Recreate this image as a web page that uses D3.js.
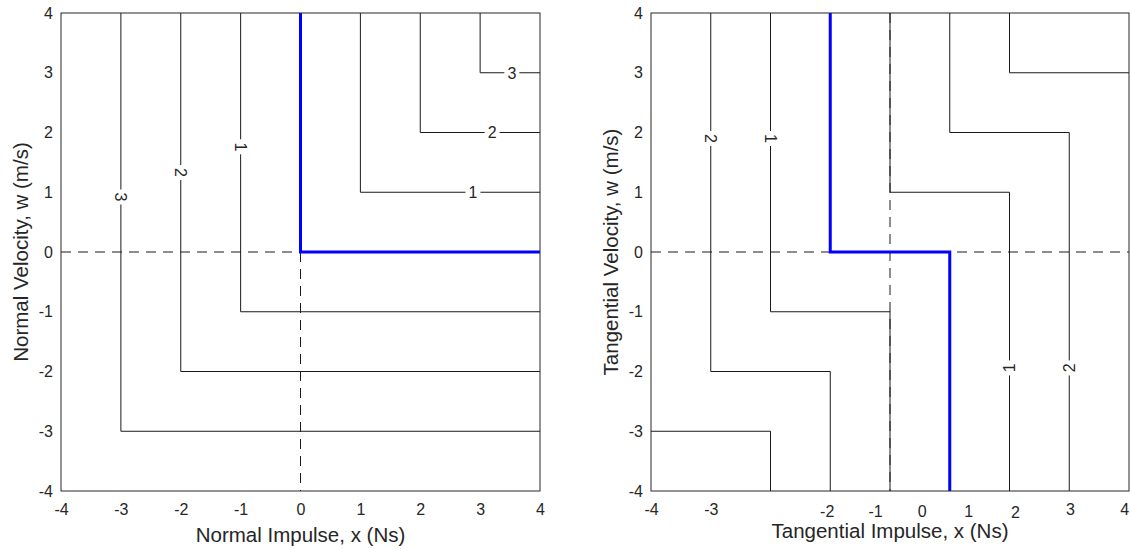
<!DOCTYPE html>
<html>
<head>
<meta charset="utf-8">
<script src="https://cdn.jsdelivr.net/npm/d3@7"></script>
<style>
  html, body { margin: 0; padding: 0; background: #fff; }
  svg { display: block; }
  text { font-family: "Liberation Sans", Arial, Helvetica, sans-serif; fill: #262626; }
</style>
</head>
<body>
<svg id="chart" width="1130" height="549"></svg>
<script>
// ---------------- DATA ----------------
const axisTicks = [-4, -3, -2, -1, 0, 1, 2, 3, 4];
const axisTickText = ["-4", "-3", "-2", "-1", "0", "1", "2", "3", "4"];

// Left panel (normal direction)
const normalLevels = [1, 2, 3, 1, 2, 3];
const normalContours = [
  [[1, 4], [1, 1], [4, 1]],
  [[2, 4], [2, 2], [4, 2]],
  [[3, 4], [3, 3], [4, 3]],
  [[-1, 4], [-1, -1], [4, -1]],
  [[-2, 4], [-2, -2], [4, -2]],
  [[-3, 4], [-3, -3], [4, -3]]
];
const normalLabelAt = [[2.88, 1], [3.2, 2], [3.53, 3], [-1, 1.76], [-2, 1.33], [-3, 0.92]];
const normalLabelRot = [0, 0, 0, 90, 90, 90];
const normalPath = [[0, 4], [0, 0], [4, 0]];
const normalDashH = [[-4, 0], [4, 0]];
const normalDashV = [[0, 0], [0, -4]];

// Right panel (tangential direction)
const tangLevels = [1, 2, 3, 1, 2, 3];
const tangContours = [
  [[-2, 4], [-2, -1], [0, -1], [0, -4]],
  [[-3, 4], [-3, -2], [-1, -2], [-1, -4]],
  [[-4, -3], [-2, -3], [-2, -4]],
  [[0, 4], [0, 1], [2, 1], [2, -4]],
  [[1, 4], [1, 2], [3, 2], [3, -4]],
  [[2, 4], [2, 3], [4, 3]]
];
const tangLabelAt = [[-2, 1.9], [-3, 1.9], null, [2, -1.94], [3, -1.94], null];
const tangLabelRot = [90, 90, 0, -90, -90, 0];
const tangPath = [[-1, 4], [-1, 0], [1, 0], [1, -4]];
const tangDashH = [[-4, 0], [4, 0]];
const tangDashV = [[0, 4], [0, -4]];
const tangXTickPos = [-4, -3, -1.06, -0.25, 0.53, 1.31, 2.09, 3.01, 3.92];
const tangXTickText = ["-4", "-3", "-2", "-1", "0", "1", "2", "3", "4"];

// ---------------- DRAW ----------------
const svg = d3.select("#chart");
const plotTop = 13, plotBottom = 491;
const tangTickNudge = [0, 0, 2, 2, 2, 2, 3, 0, 0];   // small vertical offsets of the hand-placed labels

function panel(opt) {
  const x = d3.scaleLinear().domain([-4, 4]).range([opt.left, opt.right]);
  const y = d3.scaleLinear().domain([-4, 4]).range([plotBottom, plotTop]);
  const g = svg.append("g");
  const line = d3.line().x(d => x(d[0])).y(d => y(d[1]));

  // dashed reference lines
  [opt.dashH, opt.dashV].forEach(p => {
    g.append("path").attr("d", line(p)).attr("fill", "none")
      .attr("stroke", "#1a1a1a").attr("stroke-width", 1)
      .attr("stroke-dasharray", "10,7");
  });

  // contour lines
  opt.contours.forEach(p => {
    g.append("path").attr("d", line(p)).attr("fill", "none")
      .attr("stroke", "#1a1a1a").attr("stroke-width", 1);
  });

  // contour labels
  opt.contours.forEach((p, i) => {
    const at = opt.labelAt[i];
    if (!at) return;
    const rot = opt.labelRot[i];
    const lg = g.append("g")
      .attr("transform", `translate(${x(at[0])},${y(at[1])}) rotate(${rot})`);
    lg.append("rect").attr("x", -7.5).attr("y", -5).attr("width", 15).attr("height", 10)
      .attr("fill", "#fff");
    lg.append("text").attr("text-anchor", "middle").attr("dy", "0.36em")
      .style("font-size", "16px").attr("fill", "#111").text(opt.levels[i]);
  });

  // highlighted path
  g.append("path").attr("d", line(opt.path)).attr("fill", "none")
    .attr("stroke", "#0000ff").attr("stroke-width", 3);

  // box
  g.append("rect").attr("x", opt.left).attr("y", plotTop)
    .attr("width", opt.right - opt.left).attr("height", plotBottom - plotTop)
    .attr("fill", "none").attr("stroke", "#262626").attr("stroke-width", 1);

  // axes
  const xAxis = d3.axisBottom(x).tickSize(0).tickPadding(13)
    .tickValues(opt.xTickPos).tickFormat((d, i) => opt.xTickText[i]);
  const gx = g.append("g").attr("transform", `translate(0,${plotBottom})`).call(xAxis);
  if (opt.xNudge) gx.selectAll(".tick text").attr("y", (d, i) => 13 + opt.xNudge[i]);
  const yAxis = d3.axisLeft(y).tickSize(0).tickPadding(8)
    .tickValues(axisTicks).tickFormat((d, i) => axisTickText[i]);
  const gy = g.append("g").attr("transform", `translate(${opt.left},0)`).call(yAxis);
  [gx, gy].forEach(a => {
    a.select(".domain").remove();
    a.selectAll("text").style("font-size", "16px").style("font-family", null)
      .attr("fill", "#262626");
  });

  // axis titles
  g.append("text").attr("x", (opt.left + opt.right) / 2).attr("y", opt.xTitleY)
    .attr("text-anchor", "middle").attr("dy", "0.35em").style("font-size", "20.5px")
    .text(opt.xTitle);
  g.append("text")
    .attr("transform", `translate(${opt.left - 40},${(plotTop + plotBottom) / 2}) rotate(-90)`)
    .attr("text-anchor", "middle").attr("dy", "0.35em").style("font-size", "20.5px")
    .text(opt.yTitle);
}

panel({
  left: 61, right: 540,
  contours: normalContours, levels: normalLevels,
  labelAt: normalLabelAt, labelRot: normalLabelRot,
  path: normalPath, dashH: normalDashH, dashV: normalDashV,
  xTickPos: axisTicks, xTickText: axisTickText,
  xTitle: "Normal Impulse, x (Ns)", xTitleY: 535,
  yTitle: "Normal Velocity, w (m/s)"
});

panel({
  left: 651, right: 1129,
  contours: tangContours, levels: tangLevels,
  labelAt: tangLabelAt, labelRot: tangLabelRot,
  path: tangPath, dashH: tangDashH, dashV: tangDashV,
  xTickPos: tangXTickPos, xTickText: tangXTickText, xNudge: tangTickNudge,
  xTitle: "Tangential Impulse, x (Ns)", xTitleY: 531,
  yTitle: "Tangential Velocity, w (m/s)"
});
</script>
</body>
</html>
